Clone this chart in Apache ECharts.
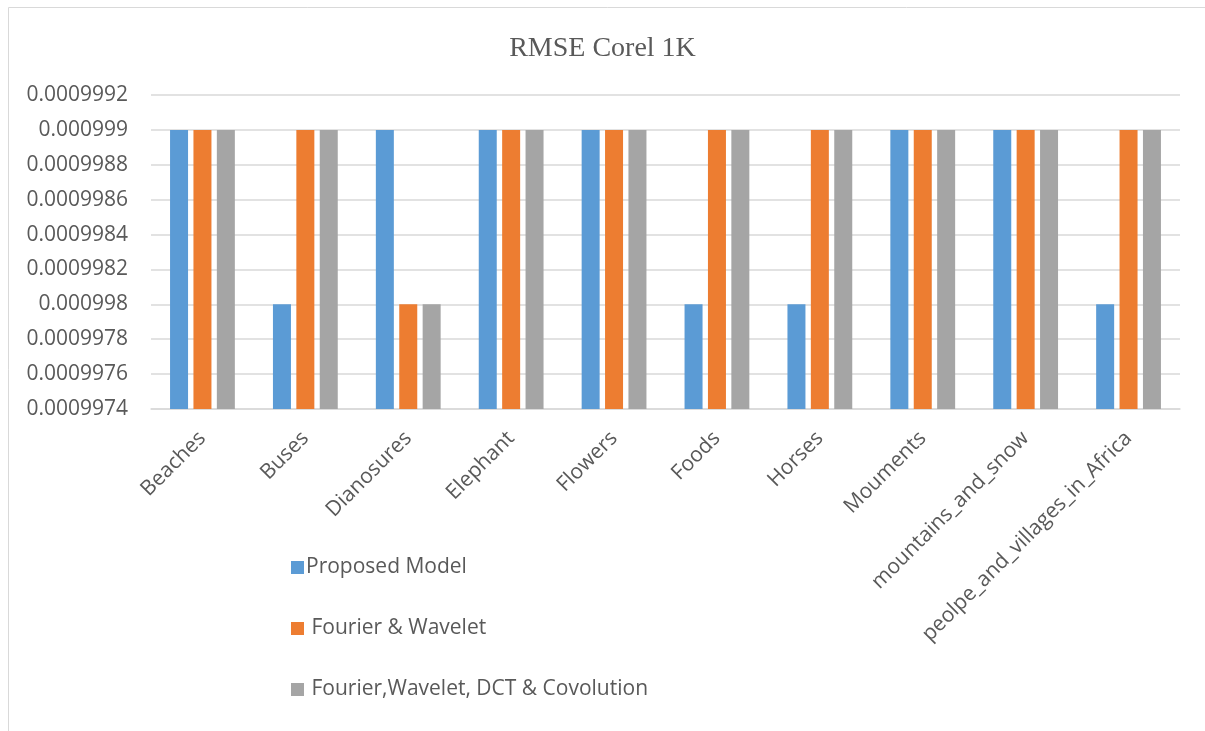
<!DOCTYPE html>
<html>
<head>
<meta charset="utf-8">
<script src="https://cdn.jsdelivr.net/npm/echarts@6/dist/echarts.min.js"></script>
<style>
html,body{margin:0;padding:0;background:#fff;}
#chart{width:1205px;height:731px;}
</style>
</head>
<body>
<div id="chart"></div>
<script>
// Image categories of the Corel 1K set
const categories = ['Beaches','Buses','Dianosures','Elephant','Flowers','Foods','Horses','Mouments','mountains_and_snow','peolpe_and_villages_in_Africa'];

// RMSE per category for each method
const proposedModel   = [0.000999,0.000998,0.000999,0.000999,0.000999,0.000998,0.000998,0.000999,0.000999,0.000998];
const fourierWavelet  = [0.000999,0.000999,0.000998,0.000999,0.000999,0.000999,0.000999,0.000999,0.000999,0.000999];
const fourierWaveletDctConv = [0.000999,0.000999,0.000998,0.000999,0.000999,0.000999,0.000999,0.000999,0.000999,0.000999];

const seriesNames = ['Proposed Model',' Fourier & Wavelet',' Fourier,Wavelet, DCT & Covolution'];
const colors = ['#5B9BD5','#ED7D31','#A5A5A5'];

// Value axis range and step
const yMin = 0.0009974, yMax = 0.0009992, yStep = 0.0000002;

const chart = echarts.init(document.getElementById('chart'));
const textColor = '#595959';
const font = '"Open Sans", "Noto Sans", sans-serif';

const makeSeries = (name, data, color) => ({
  name, type: 'bar', data, barWidth: 18, barGap: '30%',
  itemStyle: { color }
});

chart.setOption({
  animation: false,
  color: colors,
  title: {
    text: 'RMSE Corel 1K', left: 'center', top: 30,
    textStyle: { fontFamily: '"Liberation Serif", serif', fontWeight: 'normal', fontSize: 28, color: textColor }
  },
  graphic: [{
    type: 'rect', shape: { x: 8.5, y: 7.5, width: 1210, height: 740 },
    style: { fill: 'none', stroke: '#d9d9d9', lineWidth: 1 }, silent: true
  }],
  legend: {
    orient: 'vertical', left: 286, top: 552, itemGap: 40,
    icon: 'rect', itemWidth: 13, itemHeight: 13,
    textStyle: { fontFamily: font, fontSize: 21, color: textColor, padding: [0,0,0,-3] },
    data: seriesNames
  },
  grid: { left: 151, right: 25, top: 95, bottom: 322, containLabel: false },
  xAxis: {
    type: 'category', data: categories,
    axisLine: { lineStyle: { color: '#d9d9d9', width: 1.5 } },
    axisTick: { show: false },
    axisLabel: { rotate: 45, interval: 0, margin: 26, fontFamily: font, fontSize: 21, color: textColor }
  },
  yAxis: {
    type: 'value', min: yMin, max: yMax, interval: yStep,
    axisLine: { show: false }, axisTick: { show: false },
    splitLine: { lineStyle: { color: '#d9d9d9', width: 1.5 } },
    axisLabel: {
      margin: 23, fontFamily: font, fontSize: 21, color: textColor,
      formatter: v => String(parseFloat(v.toFixed(7)))
    }
  },
  series: [
    makeSeries(seriesNames[0], proposedModel, colors[0]),
    makeSeries(seriesNames[1], fourierWavelet, colors[1]),
    makeSeries(seriesNames[2], fourierWaveletDctConv, colors[2])
  ]
});
</script>
</body>
</html>
